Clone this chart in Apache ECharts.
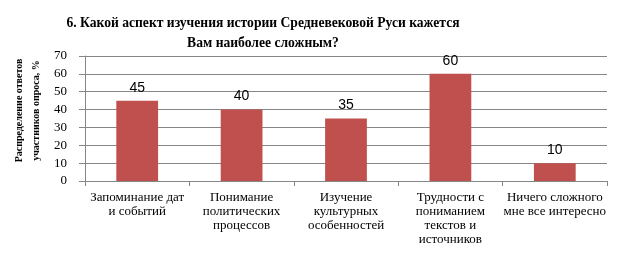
<!DOCTYPE html>
<html>
<head>
<meta charset="utf-8">
<script src="https://cdn.jsdelivr.net/npm/echarts@6/dist/echarts.min.js"></script>
<style>
  html, body { margin: 0; padding: 0; background: #fff; }
  #chart { width: 624px; height: 254px; }
</style>
</head>
<body>
<div id="chart"></div>
<script>
const categories = [
  'Запоминание дат\nи событий',
  'Понимание\nполитических\nпроцессов',
  'Изучение\nкультурных\nособенностей',
  'Трудности с\nпониманием\nтекстов и\nисточников',
  'Ничего сложного\nмне все интересно'
]
const values = [45, 40, 35, 60, 10]

const serif = '"Liberation Serif", "Times New Roman", serif'

const chart = echarts.init(document.getElementById('chart'))
chart.setOption({
  animation: false,
  title: {
    text: '6. Какой аспект изучения истории Средневековой Руси кажется\nВам наиболее сложным?',
    left: 258,
    top: 8,
    textAlign: 'center',
    textStyle: {
      fontFamily: serif,
      fontWeight: 'bold',
      fontSize: 13.6,
      lineHeight: 20,
      color: '#000'
    }
  },
  grid: { left: 85, right: 17, top: 56, bottom: 73, outerBoundsMode: 'none' },
  xAxis: {
    type: 'category',
    data: categories,
    axisLine: { lineStyle: { color: '#868686' } },
    axisTick: { show: true, length: 5, lineStyle: { color: '#868686' } },
    axisLabel: {
      interval: 0,
      margin: 10,
      fontFamily: serif,
      fontSize: 13,
      lineHeight: 14,
      color: '#000'
    }
  },
  yAxis: {
    type: 'value',
    min: 0,
    max: 70,
    interval: 10,
    name: 'Распределение ответов\nучастников опроса, %',
    nameLocation: 'middle',
    nameGap: 40,
    nameMoveOverlap: false,
    nameTextStyle: {
      fontFamily: serif,
      fontWeight: 'bold',
      fontSize: 10,
      lineHeight: 17,
      color: '#000',
      padding: [0, 0, 0, 16]
    },
    axisLine: { show: true, lineStyle: { color: '#868686' } },
    axisTick: { show: true, length: 6, lineStyle: { color: '#868686' } },
    axisLabel: {
      fontFamily: serif,
      fontSize: 13,
      color: '#000',
      margin: 18
    },
    splitLine: { lineStyle: { color: '#868686' } }
  },
  series: [{
    type: 'bar',
    data: values,
    barWidth: '40%',
    itemStyle: { color: '#C0504D' },
    label: {
      show: true,
      position: 'top',
      distance: 6,
      fontFamily: '"Liberation Sans", Arial, sans-serif',
      fontSize: 14,
      color: '#000'
    }
  }]
})
</script>
</body>
</html>
